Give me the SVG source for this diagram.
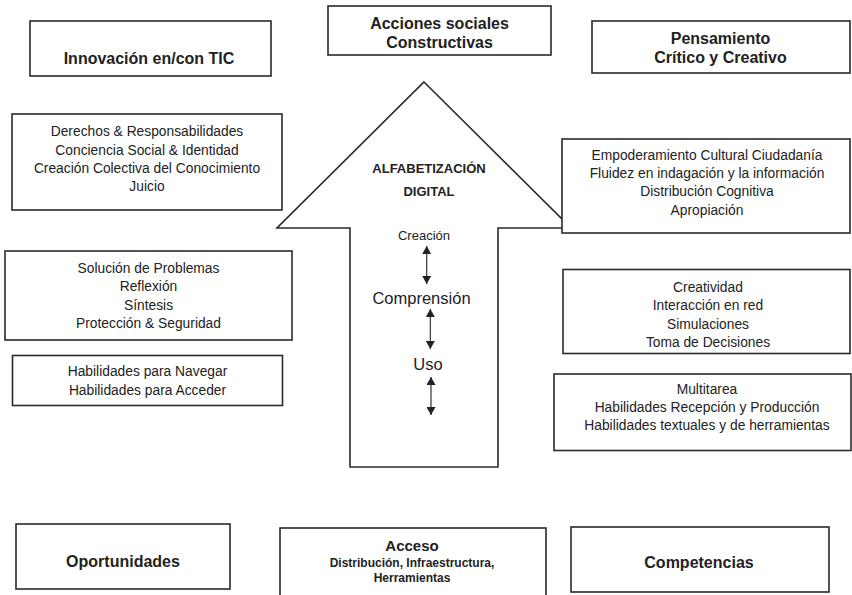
<svg xmlns="http://www.w3.org/2000/svg" width="852" height="595" viewBox="0 0 852 595">
<style>
  .box { fill: #fff; stroke: #2a2a2a; stroke-width: 1.6; }
  .t { font-family: "Liberation Sans", Arial, sans-serif; fill: #222; text-anchor: middle; }
  .b16 { font-size: 16px; font-weight: bold; }
  .b13 { font-size: 13px; font-weight: bold; }
  .b12 { font-size: 12px; font-weight: bold; }
  .r14 { font-size: 13.8px; }
  .r13 { font-size: 13px; }
  .r16 { font-size: 16.5px; }
  .conn { stroke: #222; stroke-width: 1.1; fill: none; marker-start: url(#ah); marker-end: url(#ah); }
</style>
<defs>
  <marker id="ah" viewBox="0 0 10 10" refX="10" refY="5" markerWidth="8" markerHeight="9" markerUnits="userSpaceOnUse" orient="auto-start-reverse" preserveAspectRatio="none">
    <path d="M0,0 L10,5 L0,10 Z" fill="#222"/>
  </marker>
</defs>
<rect width="852" height="595" fill="#fff"/>

<g id="arrow-alfabetizacion">
  <polygon class="box" points="424,82 571,228 498,228 498,467 350,467 350,228 277,228"/>
  <text class="t b13" x="429" y="173">ALFABETIZACIÓN</text>
  <text class="t b13" x="429" y="196">DIGITAL</text>
  <text class="t r13" x="424" y="239.5">Creación</text>
  <text class="t r16" x="421.5" y="304">Comprensión</text>
  <text class="t r16" x="428" y="370">Uso</text>
</g>

<g id="connectors">
  <line class="conn" x1="426.7" y1="246" x2="426.7" y2="284"/>
  <line class="conn" x1="430.3" y1="309" x2="430.3" y2="349"/>
  <line class="conn" x1="431" y1="377" x2="431" y2="415"/>
</g>

<g id="innovacion">
  <rect class="box" x="30" y="21" width="241" height="55"/>
  <text class="t b16" x="149" y="64">Innovación en/con TIC</text>
</g>
<g id="acciones">
  <rect class="box" x="328" y="6" width="223" height="49"/>
  <text class="t b16" x="439.5" y="29">Acciones sociales</text>
  <text class="t b16" x="439.5" y="48">Constructivas</text>
</g>
<g id="pensamiento">
  <rect class="box" x="592" y="21" width="258" height="52"/>
  <text class="t b16" x="720.5" y="43.5">Pensamiento</text>
  <text class="t b16" x="720.5" y="62.5">Crítico y Creativo</text>
</g>

<g id="derechos">
  <rect class="box" x="12" y="114" width="270" height="96"/>
  <text class="t r14" x="147" y="136">Derechos &amp; Responsabilidades</text>
  <text class="t r14" x="147" y="154.5">Conciencia Social &amp; Identidad</text>
  <text class="t r14" x="147" y="173">Creación Colectiva del Conocimiento</text>
  <text class="t r14" x="147" y="191">Juicio</text>
</g>
<g id="solucion">
  <rect class="box" x="5" y="251" width="287" height="89"/>
  <text class="t r14" x="148.5" y="272.5">Solución de Problemas</text>
  <text class="t r14" x="148.5" y="291">Reflexión</text>
  <text class="t r14" x="148.5" y="309.5">Síntesis</text>
  <text class="t r14" x="148.5" y="328">Protección &amp; Seguridad</text>
</g>
<g id="habilidades-navegar">
  <rect class="box" x="12.5" y="355.5" width="270" height="50"/>
  <text class="t r14" x="147.5" y="376">Habilidades para Navegar</text>
  <text class="t r14" x="147.5" y="394.5">Habilidades para Acceder</text>
</g>

<g id="empoderamiento">
  <rect class="box" x="562" y="139" width="288" height="94"/>
  <text class="t r14" x="707" y="159.5">Empoderamiento Cultural Ciudadanía</text>
  <text class="t r14" x="707" y="178">Fluidez en indagación y la información</text>
  <text class="t r14" x="707" y="196">Distribución Cognitiva</text>
  <text class="t r14" x="707" y="214.5">Apropiación</text>
</g>
<g id="creatividad">
  <rect class="box" x="563" y="269.5" width="287" height="84"/>
  <text class="t r14" x="708" y="292">Creatividad</text>
  <text class="t r14" x="708" y="310">Interacción en red</text>
  <text class="t r14" x="708" y="328.5">Simulaciones</text>
  <text class="t r14" x="708" y="347">Toma de Decisiones</text>
</g>
<g id="multitarea">
  <rect class="box" x="554" y="374" width="297" height="76.5"/>
  <text class="t r14" x="707" y="393.5">Multitarea</text>
  <text class="t r14" x="707" y="411.5">Habilidades Recepción y Producción</text>
  <text class="t r14" x="707" y="429.5">Habilidades textuales y de herramientas</text>
</g>

<g id="oportunidades">
  <rect class="box" x="16" y="524" width="214" height="65"/>
  <text class="t b16" x="123" y="566.5">Oportunidades</text>
</g>
<g id="acceso">
  <rect class="box" x="280" y="528" width="266" height="75"/>
  <text class="t b16" x="412" y="550.5" style="font-size:15px">Acceso</text>
  <text class="t b12" x="412" y="566.5">Distribución, Infraestructura,</text>
  <text class="t b12" x="412" y="581.5">Herramientas</text>
</g>
<g id="competencias">
  <rect class="box" x="571" y="527" width="258" height="65"/>
  <text class="t b16" x="699" y="568">Competencias</text>
</g>
</svg>
